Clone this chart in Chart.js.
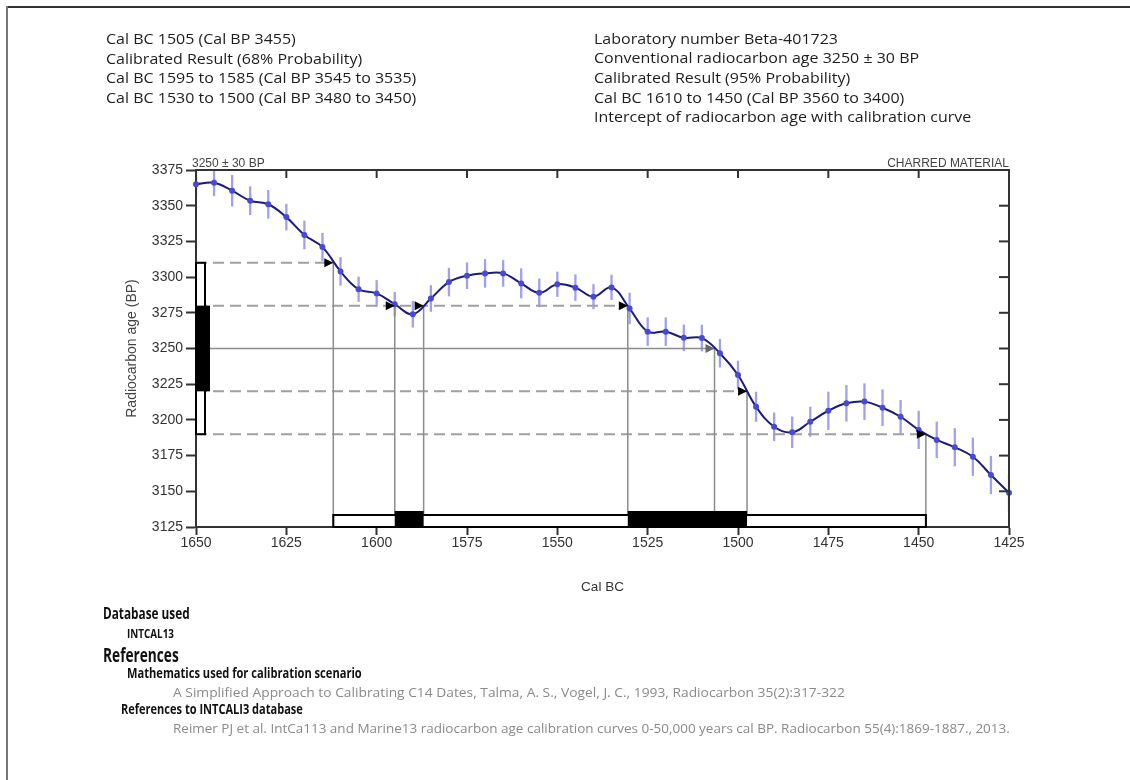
<!DOCTYPE html>
<html><head><meta charset="utf-8">
<script src="https://cdn.jsdelivr.net/npm/chart.js@4.4.1/dist/chart.umd.min.js"></script>
<style>
html,body{margin:0;padding:0;background:#fff;}
#page{position:relative;width:1130px;height:780px;overflow:hidden;background:#fff;}
#c{position:absolute;left:0;top:0;}
.t{position:absolute;white-space:nowrap;line-height:1;color:#1e1e1e;font-family:"Open Sans",sans-serif;transform-origin:0 50%;}
.top{font-size:15px;}
.b{font-weight:700;color:#111;}
.lt{color:#8a8a8a;font-size:13px;}
.ax{font-family:"Liberation Sans",Arial,sans-serif;font-size:12px;color:#444;}
</style></head>
<body><div id="page">
<div style="position:absolute;left:7px;top:6px;width:1123px;height:2px;background:#333"></div>
<div style="position:absolute;left:6px;top:6px;width:2px;height:774px;background:#777"></div>
<canvas id="c" width="1130" height="780"></canvas>

<div class="t top" data-g="1" style="left:106px;top:38px">Cal BC 1505 (Cal BP 3455)</div>
<div class="t top" data-g="1" data-ref="256" style="left:106px;top:57.5px">Calibrated Result (68% Probability)</div>
<div class="t top" data-g="1" style="left:106px;top:77px">Cal BC 1595 to 1585 (Cal BP 3545 to 3535)</div>
<div class="t top" data-g="1" style="left:106px;top:96.5px">Cal BC 1530 to 1500 (Cal BP 3480 to 3450)</div>

<div class="t top" data-g="1" style="left:594px;top:37.5px">Laboratory number Beta-401723</div>
<div class="t top" data-g="1" style="left:594px;top:57px">Conventional radiocarbon age 3250 ± 30 BP</div>
<div class="t top" data-g="1" style="left:594px;top:77px">Calibrated Result (95% Probability)</div>
<div class="t top" data-g="1" style="left:594px;top:96.5px">Cal BC 1610 to 1450 (Cal BP 3560 to 3400)</div>
<div class="t top" data-g="1" style="left:594px;top:116px">Intercept of radiocarbon age with calibration curve</div>

<div class="t ax" style="left:192px;top:163px;transform:translateY(-50%)">3250 ± 30 BP</div>
<div class="t ax" style="right:121px;top:163px;transform:translateY(-50%)">CHARRED MATERIAL</div>

<div class="t b" data-w="87" style="left:103px;top:613px;font-size:16px">Database used</div>
<div class="t b" data-w="47" style="left:127px;top:633px;font-size:13px">INTCAL13</div>
<div class="t b" data-w="76" style="left:103px;top:655px;font-size:20px">References</div>
<div class="t b" data-w="235" style="left:127px;top:673px;font-size:14px">Mathematics used for calibration scenario</div>
<div class="t lt" data-w="672" style="left:173px;top:692px">A Simplified Approach to Calibrating C14 Dates, Talma, A. S., Vogel, J. C., 1993, Radiocarbon 35(2):317-322</div>
<div class="t b" data-w="182" style="left:121px;top:709px;font-size:14px">References to INTCALI3 database</div>
<div class="t lt" data-w="837" style="left:173px;top:728px">Reimer PJ et al. IntCa113 and Marine13 radiocarbon age calibration curves 0-50,000 years cal BP. Radiocarbon 55(4):1869-1887., 2013.</div>
</div>

<script>
// ---- data ----
const calYears = [1650,1645,1640,1635,1630,1625,1620,1615,1610,1605,1600,1595,1590,1585,1580,1575,1570,1565,1560,1555,1550,1545,1540,1535,1530,1525,1520,1515,1510,1505,1500,1495,1490,1485,1480,1475,1470,1465,1460,1455,1450,1445,1440,1435,1430,1425];
const c14Age = [3365,3366,3360.5,3353.5,3351,3342,3329.5,3321,3304,3291.5,3288.6,3281,3274,3285,3296.5,3301,3302.6,3302.6,3295.6,3289,3295,3292.6,3286.3,3292.8,3278,3261.8,3261.8,3257.5,3257.3,3246.7,3231.4,3209.2,3195.2,3191.3,3198.7,3206.4,3211.6,3212.8,3208.5,3202.2,3193,3186,3180.8,3174.2,3161.4,3149];
const c14Err = [9,9.3,11,10,10,9.3,10,10,10,8.8,9.3,8.5,9.3,9.3,10,9.3,10,9.3,10.5,10,8.8,9.3,8.8,8.8,11,10,10,9.3,9.3,10,10,10.5,10,11,10.5,13.4,12.8,12.8,12.8,11.7,13.4,12.8,13.4,13.4,13.4,13];
const xTickLabels = [1650,1625,1600,1575,1550,1525,1500,1475,1450,1425];
const yTickLabels = [3125,3150,3175,3200,3225,3250,3275,3300,3325,3350,3375];
const measuredAge = 3250;
const levelAges = [3310, 3280, 3250, 3220, 3190];
const levelHits = [[1612], [1595, 1587, 1530.5], [1506.5], [1497.5], [1448]];
const range95 = [[1612, 1448]];
const range68 = [[1595, 1587], [1530.5, 1497.5]];
const ageRange95 = [3310, 3190];
const ageRange68 = [3280, 3220];

const datasets = [];
datasets.push({
  data: calYears.map((x, i) => ({x, y: c14Age[i]})),
  borderColor: '#1b1b7c', borderWidth: 2, tension: 0.4,
  pointRadius: 3, pointBackgroundColor: '#4a4ad0', pointBorderWidth: 0, clip: false
});
levelAges.forEach((age, i) => {
  const far = Math.min(...levelHits[i]);
  const solid = age === measuredAge;
  datasets.push({
    data: [{x: 1650, y: age}, {x: far, y: age}],
    borderColor: solid ? '#8c8c8c' : '#a0a0a0', borderWidth: solid ? 1.5 : 2,
    borderDash: solid ? [] : [11, 6], pointRadius: 0, tension: 0
  });
  levelHits[i].forEach(h => {
    datasets.push({
      data: [{x: h, y: age}, {x: h, y: 3125}],
      borderColor: '#8c8c8c', borderWidth: 1.5, pointRadius: 0, tension: 0
    });
  });
});

const marks = {
  id: 'marks',
  beforeDatasetsDraw(chart) {
    const {ctx, chartArea: a, scales: {x, y}} = chart;
    ctx.save();
    ctx.beginPath(); ctx.rect(a.left + 1, a.top, a.right - a.left - 2, a.bottom - a.top); ctx.clip();
    ctx.strokeStyle = 'rgba(120,120,228,0.7)'; ctx.lineWidth = 2.3;
    calYears.forEach((yr, i) => {
      const px = x.getPixelForValue(yr);
      ctx.beginPath();
      ctx.moveTo(px, y.getPixelForValue(c14Age[i] + c14Err[i]));
      ctx.lineTo(px, y.getPixelForValue(c14Age[i] - c14Err[i]));
      ctx.stroke();
    });
    ctx.restore();
  },
  afterDatasetsDraw(chart) {
    const {ctx, chartArea: a, scales: {x, y}} = chart;
    ctx.save();
    levelAges.forEach((age, i) => {
      const py = y.getPixelForValue(age);
      ctx.fillStyle = age === measuredAge ? '#666' : '#000';
      levelHits[i].forEach(h => {
        const px = x.getPixelForValue(h);
        ctx.beginPath(); ctx.moveTo(px, py); ctx.lineTo(px - 9, py - 4.5); ctx.lineTo(px - 9, py + 4.5); ctx.closePath(); ctx.fill();
      });
    });
    ctx.lineWidth = 2; ctx.strokeStyle = '#000';
    let t = y.getPixelForValue(ageRange95[0]), b = y.getPixelForValue(ageRange95[1]);
    ctx.fillStyle = '#fff'; ctx.fillRect(a.left, t, 9, b - t); ctx.strokeRect(a.left, t, 9, b - t);
    t = y.getPixelForValue(ageRange68[0]); b = y.getPixelForValue(ageRange68[1]);
    ctx.fillStyle = '#000'; ctx.fillRect(a.left, t, 14, b - t);
    const yb = y.getPixelForValue(3125);
    range95.forEach(([s, e]) => {
      const x1 = x.getPixelForValue(s), x2 = x.getPixelForValue(e);
      ctx.fillStyle = '#fff'; ctx.fillRect(x1, yb - 12, x2 - x1, 12); ctx.strokeRect(x1, yb - 12, x2 - x1, 12);
    });
    range68.forEach(([s, e]) => {
      const x1 = x.getPixelForValue(s), x2 = x.getPixelForValue(e);
      ctx.fillStyle = '#000'; ctx.fillRect(x1, yb - 16, x2 - x1, 16);
    });
    ctx.restore();
  },
  afterDraw(chart) {
    const {ctx, chartArea: a, scales: {x, y}} = chart;
    ctx.save();
    ctx.strokeStyle = '#333'; ctx.lineWidth = 2;
    ctx.beginPath(); ctx.moveTo(a.left - 1, a.top); ctx.lineTo(a.right, a.top); ctx.lineTo(a.right, a.bottom + 1); ctx.stroke();
    xTickLabels.forEach(v => {
      if (v === 1650 || v === 1425) return;
      const px = x.getPixelForValue(v);
      ctx.beginPath(); ctx.moveTo(px, a.top); ctx.lineTo(px, a.top + 8); ctx.stroke();
    });
    yTickLabels.forEach(v => {
      if (v === 3125 || v === 3375) return;
      const py = y.getPixelForValue(v);
      ctx.beginPath(); ctx.moveTo(a.right, py); ctx.lineTo(a.right - 10, py); ctx.stroke();
    });
    ctx.restore();
  }
};

const axFont = {family: 'Liberation Sans, Arial, sans-serif', size: 14};
new Chart(document.getElementById('c'), {
  type: 'line',
  data: {datasets},
  plugins: [marks],
  options: {
    responsive: false, animation: false,
    layout: {padding: {left: 120, top: 170, right: 121, bottom: 181}},
    plugins: {legend: {display: false}, tooltip: {enabled: false}},
    scales: {
      x: {
        type: 'linear', reverse: true, min: 1425, max: 1650,
        afterBuildTicks: s => { s.ticks = xTickLabels.map(v => ({value: v})); },
        afterFit: s => { s.height = 72; },
        ticks: {callback: v => String(v), font: axFont, color: '#333', padding: 0, maxRotation: 0, autoSkip: false},
        grid: {drawOnChartArea: false, drawTicks: true, tickLength: 8, tickWidth: 2, tickColor: '#333'},
        border: {display: true, color: '#333', width: 2},
        title: {display: true, text: 'Cal BC', font: {family: 'Liberation Sans, Arial, sans-serif', size: 13.5}, color: '#333'}
      },
      y: {
        type: 'linear', min: 3125, max: 3375,
        afterBuildTicks: s => { s.ticks = yTickLabels.map(v => ({value: v})); },
        afterFit: s => { s.width = 76; },
        ticks: {callback: v => String(v), font: axFont, color: '#333', padding: 3, autoSkip: false},
        grid: {drawOnChartArea: false, drawTicks: true, tickLength: 10, tickWidth: 2, tickColor: '#333'},
        border: {display: true, color: '#333', width: 2},
        title: {display: true, text: 'Radiocarbon age (BP)', font: {family: 'Liberation Sans, Arial, sans-serif', size: 14}, color: '#444'}
      }
    }
  }
});

function fitText() {
  const groupEls = [...document.querySelectorAll('[data-g="1"]')];
  const ref = groupEls.find(e => e.dataset.ref);
  const s = ref ? parseFloat(ref.dataset.ref) / ref.offsetWidth : 1;
  groupEls.forEach(e => { e.style.transform = 'translateY(-50%) scaleX(' + s + ')'; });
  document.querySelectorAll('[data-w]').forEach(e => {
    const k = parseFloat(e.dataset.w) / e.offsetWidth;
    e.style.transform = 'translateY(-50%) scaleX(' + k + ')';
  });
}
fitText();
if (document.fonts && document.fonts.ready) document.fonts.ready.then(fitText);
</script>
</body></html>
